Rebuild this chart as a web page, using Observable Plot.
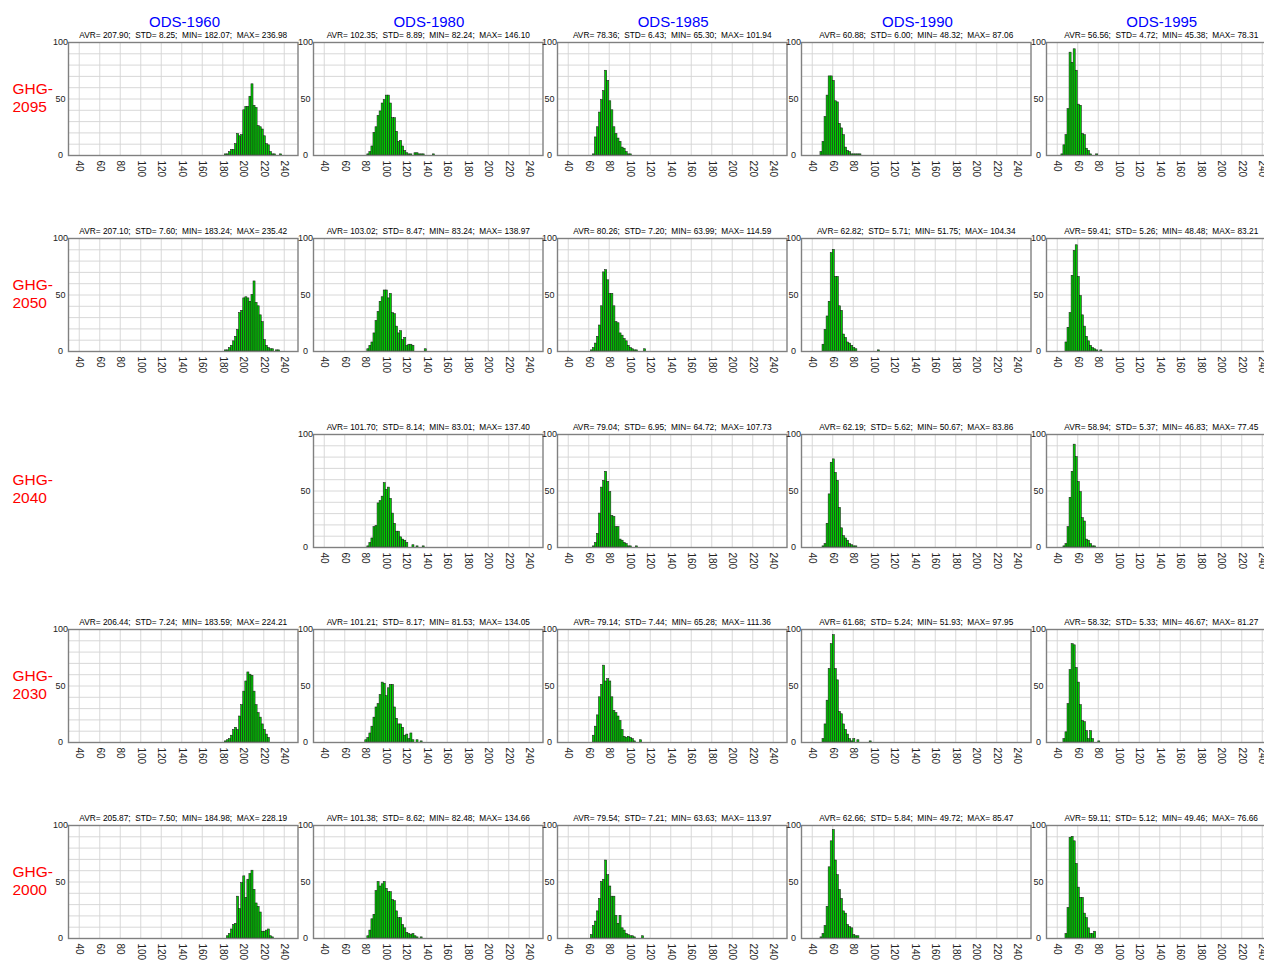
<!DOCTYPE html>
<html>
<head>
<meta charset="utf-8">
<script src="https://cdn.jsdelivr.net/npm/d3@7"></script>
<script src="https://cdn.jsdelivr.net/npm/@observablehq/plot@0.6"></script>
<style>
html, body { margin: 0; padding: 0; background: #fff; }
body { width: 1264px; height: 962px; overflow: hidden; position: relative; font-family: "Liberation Sans", Arial, Helvetica, sans-serif; }
.panel { position: absolute; }
#overlay { position: absolute; left: 0; top: 0; }
</style>
</head>
<body>
<script>
// ---------------- data ----------------
const odsLabels = ["ODS-1960", "ODS-1980", "ODS-1985", "ODS-1990", "ODS-1995"];
const ghgLabels = ["GHG-2095", "GHG-2050", "GHG-2040", "GHG-2030", "GHG-2000"];
const xTicks = [40, 60, 80, 100, 120, 140, 160, 180, 200, 220, 240];
const yTicks = [0, 50, 100];
const yGridTicks = [0, 10, 20, 30, 40, 50, 60, 70, 80, 90, 100];
const xDomain = [29.5, 253.4];
const yDomain = [0, 100];
const binWidth = 2;

// per-panel statistics text (columns ODS-1960 .. ODS-1995)
const stats2095 = [
  "AVR= 207.90;  STD= 8.25;  MIN= 182.07;  MAX= 236.98",
  "AVR= 102.35;  STD= 8.89;  MIN= 82.24;  MAX= 146.10",
  "AVR= 78.36;  STD= 6.43;  MIN= 65.30;  MAX= 101.94",
  "AVR= 60.88;  STD= 6.00;  MIN= 48.32;  MAX= 87.06",
  "AVR= 56.56;  STD= 4.72;  MIN= 45.38;  MAX= 78.31"];
const stats2050 = [
  "AVR= 207.10;  STD= 7.60;  MIN= 183.24;  MAX= 235.42",
  "AVR= 103.02;  STD= 8.47;  MIN= 83.24;  MAX= 138.97",
  "AVR= 80.26;  STD= 7.20;  MIN= 63.99;  MAX= 114.59",
  "AVR= 62.82;  STD= 5.71;  MIN= 51.75;  MAX= 104.34",
  "AVR= 59.41;  STD= 5.26;  MIN= 48.48;  MAX= 83.21"];
const stats2040 = [
  null,
  "AVR= 101.70;  STD= 8.14;  MIN= 83.01;  MAX= 137.40",
  "AVR= 79.04;  STD= 6.95;  MIN= 64.72;  MAX= 107.73",
  "AVR= 62.19;  STD= 5.62;  MIN= 50.67;  MAX= 83.86",
  "AVR= 58.94;  STD= 5.37;  MIN= 46.83;  MAX= 77.45"];
const stats2030 = [
  "AVR= 206.44;  STD= 7.24;  MIN= 183.59;  MAX= 224.21",
  "AVR= 101.21;  STD= 8.17;  MIN= 81.53;  MAX= 134.05",
  "AVR= 79.14;  STD= 7.44;  MIN= 65.28;  MAX= 111.36",
  "AVR= 61.68;  STD= 5.24;  MIN= 51.93;  MAX= 97.95",
  "AVR= 58.32;  STD= 5.33;  MIN= 46.67;  MAX= 81.27"];
const stats2000 = [
  "AVR= 205.87;  STD= 7.50;  MIN= 184.98;  MAX= 228.19",
  "AVR= 101.38;  STD= 8.62;  MIN= 82.48;  MAX= 134.66",
  "AVR= 79.54;  STD= 7.21;  MIN= 63.63;  MAX= 113.97",
  "AVR= 62.66;  STD= 5.84;  MIN= 49.72;  MAX= 85.47",
  "AVR= 59.11;  STD= 5.12;  MIN= 49.46;  MAX= 76.66"];

// first bin start of each histogram (bins are binWidth wide)
const start2095 = [182, 82, 64, 48, 44];
const start2050 = [182, 82, 62, 50, 48];
const start2040 = [null, 82, 64, 50, 46];
const start2030 = [182, 80, 64, 50, 46];
const start2000 = [184, 82, 62, 48, 48];

// bin counts
const h2095_1960 = [1,1,3,5,5,10,19,17,18,40,43,43,52,63,44,42,26,25,23,17,10,9,3,1,1,0,0,1];
const h2095_1980 = [1,3,8,20,25,35,39,46,49,53,53,46,33,33,21,12,13,8,4,2,1,1,0,2,2,1,1,1,0,0,0,0,1];
const h2095_1985 = [1,16,25,38,49,57,75,66,48,40,25,19,15,12,7,6,3,1,1];
const h2095_1990 = [3,12,34,53,70,70,66,48,47,28,24,18,7,4,3,1,1,1,1,1];
const h2095_1995 = [1,9,18,41,91,82,94,75,45,44,19,18,6,4,1,0,0,1];

const h2050_1960 = [1,1,3,5,9,13,19,34,36,47,48,47,44,50,62,43,40,32,26,10,5,3,2,2,0,1,1];
const h2050_1980 = [2,5,8,16,27,35,44,48,54,54,47,51,34,33,22,16,18,10,12,5,6,6,5,0,0,0,0,0,2];
const h2050_1985 = [1,3,7,13,23,40,70,72,63,51,51,40,26,25,16,14,11,9,5,3,2,1,1,0,0,0,2];
const h2050_1990 = [6,19,31,44,87,90,66,66,40,36,15,12,8,7,5,3,2,0,0,0,0,0,0,0,0,0,0,1];
const h2050_1995 = [8,21,34,67,89,94,66,49,32,22,13,9,5,3,2,1,0,1];

const h2040_1980 = [1,4,8,18,19,39,41,45,57,51,53,43,30,21,14,14,9,7,6,4,0,0,2,0,1,0,0,1];
const h2040_1985 = [1,4,12,30,53,59,67,58,49,28,27,18,18,7,6,4,3,1,1,0,0,1];
const h2040_1990 = [1,3,21,47,75,78,66,59,35,17,10,8,6,3,2,1,1];
const h2040_1995 = [1,3,18,44,67,91,80,58,49,26,23,7,6,3,1,1];

const h2030_1960 = [1,2,3,6,11,13,11,23,33,45,54,62,60,59,45,33,26,22,16,11,7,4];
const h2030_1980 = [2,4,8,14,22,31,34,42,53,52,41,48,51,51,31,21,16,16,13,6,7,3,8,2,0,2,0,1];
const h2030_1985 = [6,14,24,40,51,68,54,56,54,40,28,26,23,19,11,5,4,5,4,3,1,0,0,2];
const h2030_1990 = [3,16,37,65,87,95,65,55,27,25,16,11,7,3,1,3,0,2,0,0,0,0,0,1];
const h2030_1995 = [3,9,34,64,87,86,66,53,33,19,18,10,3,10,3,0,0,1];

const h2000_1960 = [2,4,8,12,13,37,26,49,55,36,52,57,60,43,31,28,23,6,6,7,8,2,1];
const h2000_1980 = [2,7,17,21,42,50,46,48,50,44,41,41,34,33,24,18,18,12,9,5,4,3,4,2,1,0,1];
const h2000_1985 = [3,11,15,24,35,50,52,69,56,46,37,37,20,13,20,9,7,4,3,2,2,1,0,0,0,2];
const h2000_1990 = [1,4,11,28,63,86,96,69,56,43,35,24,22,12,10,9,3,2,2];
const h2000_1995 = [4,27,89,90,86,66,45,36,36,22,18,9,4,4,6];

// ---------------- assemble ----------------
const rowStats = [stats2095, stats2050, stats2040, stats2030, stats2000];
const rowStarts = [start2095, start2050, start2040, start2030, start2000];
const rowCounts = [
  [h2095_1960, h2095_1980, h2095_1985, h2095_1990, h2095_1995],
  [h2050_1960, h2050_1980, h2050_1985, h2050_1990, h2050_1995],
  [null,       h2040_1980, h2040_1985, h2040_1990, h2040_1995],
  [h2030_1960, h2030_1980, h2030_1985, h2030_1990, h2030_1995],
  [h2000_1960, h2000_1980, h2000_1985, h2000_1990, h2000_1995]];

// ---------------- layout ----------------
const FL0 = 68.3, PX = 244.3, FT0 = 42.3, PY = 195.7, FW = 229.5, FH = 113;
const ML = 24, MR = 4, MT = 14, MB = 34;
const FONT = '"Liberation Sans", Arial, Helvetica, sans-serif';

function makeBins(start, counts) {
  return counts
    .map((c, i) => ({x0: start + i * binWidth, x1: start + (i + 1) * binWidth, count: c}))
    .filter(d => d.count > 0);
}

rowCounts.forEach((countsRow, r) => {
  countsRow.forEach((counts, c) => {
    if (!counts) return;
    const bins = makeBins(rowStarts[r][c], counts);
    const chart = Plot.plot({
      width: ML + FW + MR,
      height: MT + FH + MB,
      marginLeft: ML, marginRight: MR, marginTop: MT, marginBottom: MB,
      x: {domain: xDomain},
      y: {domain: yDomain},
      style: {fontFamily: FONT, fontSize: "9px", background: "transparent", overflow: "visible", maxWidth: "none", color: "#222"},
      marks: [
        Plot.gridY(yGridTicks, {stroke: "#d4d4d4", strokeOpacity: 1, strokeWidth: 0.9}),
        Plot.gridX(xTicks, {stroke: "#d4d4d4", strokeOpacity: 1, strokeWidth: 0.9}),
        Plot.rectY(bins, {x1: "x0", x2: "x1", y: "count", fill: "#00cc00", stroke: "#1b1b1b", strokeWidth: 0.55}),
        Plot.frame({stroke: "#808080", strokeWidth: 1.4}),
        Plot.axisY(yTicks, {tickSize: 0, tickPadding: 8, textAnchor: "middle", label: null, fontSize: 9}),
        Plot.axisX(xTicks, {tickSize: 0, tickPadding: 5, tickRotate: 90, label: null, fontSize: 10}),
        Plot.text([rowStats[r][c]], {frameAnchor: "top", dy: -4.6, lineAnchor: "bottom", text: d => d, fontSize: 8.3, fill: "#000"})
      ]
    });
    const div = document.createElement("div");
    div.className = "panel";
    div.style.left = (FL0 + c * PX - ML) + "px";
    div.style.top = (FT0 + r * PY - MT) + "px";
    div.appendChild(chart);
    document.body.appendChild(div);
  });
});

// column headers and row labels
const overlay = d3.select("body").append("svg")
  .attr("id", "overlay").attr("width", 1264).attr("height", 962)
  .style("font-family", FONT);

overlay.selectAll("text.col").data(odsLabels).join("text")
  .attr("class", "col")
  .attr("x", (d, i) => FL0 + i * PX + FW / 2 + 1.5)
  .attr("y", 27)
  .attr("text-anchor", "middle")
  .attr("font-size", 15)
  .attr("fill", "#0000ff")
  .text(d => d);

const rowText = overlay.selectAll("text.row").data(ghgLabels).join("text")
  .attr("class", "row")
  .attr("font-size", 15.5)
  .attr("fill", "#ff0000");
rowText.append("tspan")
  .attr("x", 12.5)
  .attr("y", (d, i) => FT0 + i * PY + 51.7)
  .text(d => d.split("-")[0] + "-");
rowText.append("tspan")
  .attr("x", 12.5)
  .attr("y", (d, i) => FT0 + i * PY + 69.7)
  .text(d => d.split("-")[1]);
</script>
</body>
</html>
